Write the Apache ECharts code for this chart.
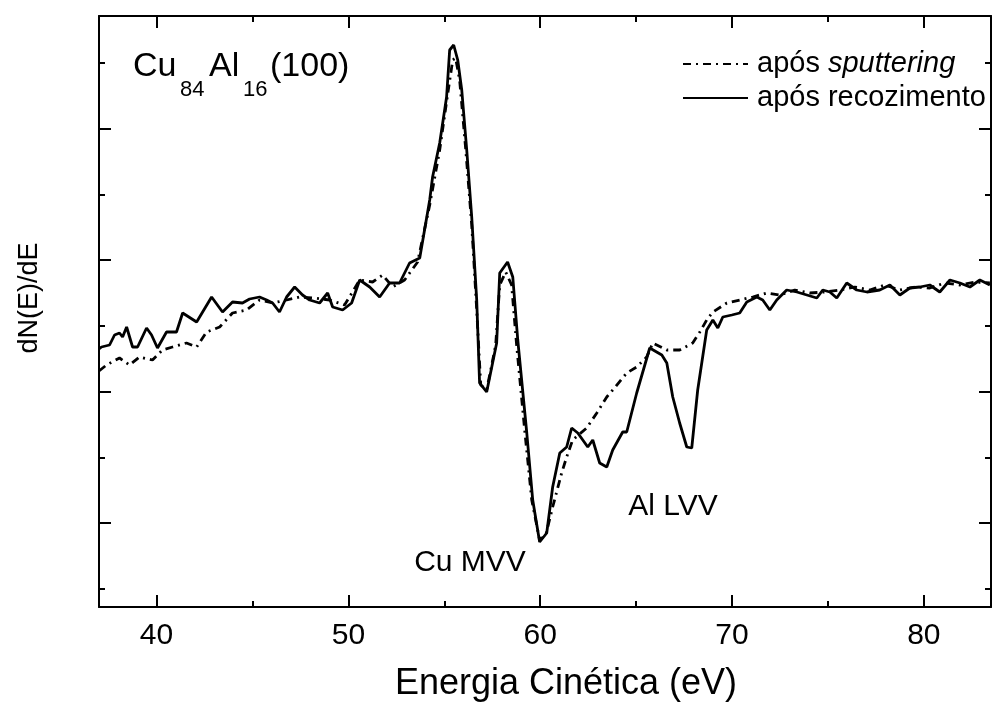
<!DOCTYPE html>
<html>
<head>
<meta charset="utf-8">
<script src="https://cdn.jsdelivr.net/npm/echarts@6/dist/echarts.min.js"></script>
<style>
html,body{margin:0;padding:0;background:#fff;}
#chart{width:997px;height:706px;}
</style>
</head>
<body>
<div id="chart"></div>
<script>
// Energy axis (eV)
const xMin = 37, xMax = 83.5;
const xMajorTicks = [40, 50, 60, 70, 80];
const xMinorTicks = [45, 55, 65, 75];
// dN(E)/dE, arbitrary units
const yMin = 0, yMax = 591;
const yMajorTicks = [84, 215.5, 347, 478.5];
const yMinorTicks = [18.25, 149.75, 281.25, 412.75, 544.25];

const seriesNames = ['após sputtering', 'após recozimento'];

// após sputtering (dash-dot)
const energySputter = [37.0,37.39,38.07,38.59,39.11,39.79,40.31,40.83,41.56,42.09,42.61,43.29,43.96,44.69,45.37,46.05,46.78,47.46,48.24,49.02,49.80,50.59,51.26,51.79,52.31,52.93,53.61,54.24,54.76,55.17,55.44,55.59,55.80,56.12,56.43,56.69,56.90,57.21,57.68,57.89,58.20,58.51,58.77,59.19,59.56,59.97,60.29,60.65,61.12,61.38,61.69,62.42,62.95,63.47,63.78,64.51,65.03,65.55,65.87,66.60,67.27,67.95,68.32,68.68,69.00,69.73,70.40,71.08,71.81,72.49,73.27,74.05,74.83,75.62,76.40,77.18,77.96,78.75,79.53,80.31,81.09,81.88,82.66,83.44];
const dndeSputter = [236,242,249,242,250,247,257,260,264,260,275,280,294,297,307,304,307,310,309,307,302,327,325,332,320,327,345,402,457,512,547,549,527,457,382,297,222,217,262,322,335,322,262,177,107,67,72,100,134,150,167,179,194,210,217,234,240,250,264,257,257,264,275,287,295,304,307,310,314,312,317,314,315,317,320,317,322,317,320,319,324,322,325,324];

// após recozimento (solid)
const energyAnneal = [37.0,37.13,37.55,37.81,38.07,38.23,38.44,38.75,39.01,39.48,39.74,40.05,40.52,41.04,41.36,42.09,42.87,43.44,43.96,44.48,44.85,45.37,45.74,46.05,46.41,46.78,47.20,47.61,47.98,48.50,48.92,49.18,49.70,50.17,50.59,51.11,51.63,52.15,52.67,53.19,53.72,54.24,54.39,54.76,55.12,55.28,55.49,55.70,55.91,56.17,56.43,56.69,56.84,57.21,57.73,57.89,58.30,58.57,58.83,59.30,59.61,59.97,60.34,60.65,61.02,61.38,61.64,61.96,62.48,62.74,63.10,63.47,63.78,64.30,64.51,65.03,65.71,66.34,66.60,66.91,67.27,67.64,67.90,68.21,68.68,69.00,69.26,69.52,69.99,70.40,70.77,71.29,71.60,71.97,72.33,72.85,73.38,73.90,74.42,74.73,75.10,75.46,75.98,76.50,77.03,77.70,78.23,78.75,79.27,79.79,80.31,80.83,81.36,81.88,82.40,82.92,83.44];
const dndeAnneal = [258,260,262,272,274,270,280,260,260,279,272,259,275,275,294,285,310,295,305,304,308,310,307,304,295,310,320,312,307,304,314,300,297,304,327,320,310,324,324,344,349,407,430,464,510,557,562,547,517,457,390,307,224,215,264,334,345,330,267,174,107,65,74,120,154,160,179,174,160,167,144,140,157,175,175,214,259,252,244,210,184,160,159,217,277,287,279,290,292,294,305,310,307,297,307,317,315,312,309,317,315,309,324,317,315,317,322,312,319,320,322,315,327,324,320,327,322];

const FONT = '"Liberation Sans", Arial, Helvetica, sans-serif';
const pairs = (xs, ys) => xs.map((x, i) => [x, ys[i]]);

function xAx(position, ticks, len, showLine, showLabel) {
  return {
    type: 'value', min: xMin, max: xMax, position: position,
    axisLine: { show: showLine, onZero: false, lineStyle: { color: '#000', width: 2 } },
    axisTick: { show: true, inside: true, length: len, customValues: ticks, lineStyle: { color: '#000', width: 2 } },
    axisLabel: { show: showLabel, customValues: ticks, margin: 14, color: '#000', fontSize: 30, fontFamily: FONT },
    splitLine: { show: false }
  };
}
function yAx(position, ticks, len, showLine) {
  return {
    type: 'value', min: yMin, max: yMax, position: position,
    axisLine: { show: showLine, onZero: false, lineStyle: { color: '#000', width: 2 } },
    axisTick: { show: true, inside: true, length: len, customValues: ticks, lineStyle: { color: '#000', width: 2 } },
    axisLabel: { show: false },
    splitLine: { show: false }
  };
}

const chart = echarts.init(document.getElementById('chart'), null, { renderer: 'canvas' });
chart.setOption({
  animation: false,
  backgroundColor: '#fff',
  grid: { left: 99, right: 6, top: 16, bottom: 99, containLabel: false, outerBoundsMode: 'none' },
  xAxis: [
    xAx('bottom', xMajorTicks, 12, true, true),
    xAx('bottom', xMinorTicks, 6, false, false),
    xAx('top', xMajorTicks, 12, true, false),
    xAx('top', xMinorTicks, 6, false, false)
  ],
  yAxis: [
    yAx('left', yMajorTicks, 12, true),
    yAx('left', yMinorTicks, 6, false),
    yAx('right', yMajorTicks, 12, true),
    yAx('right', yMinorTicks, 6, false)
  ],
  legend: {
    orient: 'vertical', left: 682, top: 49, padding: 0,
    itemWidth: 65, itemHeight: 14, itemGap: 4,
    selectedMode: false,
    data: seriesNames,
    itemStyle: { opacity: 0 },
    formatter: function (name) {
      return name === seriesNames[0] ? '{n|após }{i|sputtering}' : '{n|após recozimento}';
    },
    textStyle: {
      color: '#000', fontSize: 29, fontFamily: FONT, lineHeight: 30, padding: [0, 0, 0, 4],
      rich: {
        n: { color: '#000', fontSize: 29, fontFamily: FONT, lineHeight: 30 },
        i: { color: '#000', fontSize: 29, fontFamily: FONT, fontStyle: 'italic', lineHeight: 30 }
      }
    }
  },
  series: [
    {
      name: seriesNames[0], type: 'line', xAxisIndex: 0, yAxisIndex: 0,
      data: pairs(energySputter, dndeSputter), symbol: 'none', smooth: false,
      lineStyle: { color: '#000', width: 2.8, type: [8, 5, 2, 5] },
      itemStyle: { color: '#000' }
    },
    {
      name: seriesNames[1], type: 'line', xAxisIndex: 0, yAxisIndex: 0,
      data: pairs(energyAnneal, dndeAnneal), symbol: 'none', smooth: false,
      lineStyle: { color: '#000', width: 2.8, type: 'solid' },
      itemStyle: { color: '#000' }
    }
  ],
  graphic: [
    { type: 'text', x: 30, y: 298, rotation: Math.PI / 2, style: { text: 'dN(E)/dE', fontSize: 27, fontFamily: FONT, fill: '#000', align: 'center', verticalAlign: 'middle' } },
    { type: 'text', x: 566, y: 684, style: { text: 'Energia Cinética (eV)', fontSize: 36, fontFamily: FONT, fill: '#000', align: 'center', verticalAlign: 'middle' } },
    { type: 'text', x: 133, y: 66.5, style: { text: 'Cu', fontSize: 34, fontFamily: FONT, fill: '#000', align: 'left', verticalAlign: 'middle' } },
    { type: 'text', x: 180, y: 89.5, style: { text: '84', fontSize: 22, fontFamily: FONT, fill: '#000', align: 'left', verticalAlign: 'middle' } },
    { type: 'text', x: 209, y: 66.5, style: { text: 'Al', fontSize: 34, fontFamily: FONT, fill: '#000', align: 'left', verticalAlign: 'middle' } },
    { type: 'text', x: 243, y: 89.5, style: { text: '16', fontSize: 22, fontFamily: FONT, fill: '#000', align: 'left', verticalAlign: 'middle' } },
    { type: 'text', x: 270, y: 66.5, style: { text: '(100)', fontSize: 34, fontFamily: FONT, fill: '#000', align: 'left', verticalAlign: 'middle' } },
    { type: 'text', x: 470, y: 563, style: { text: 'Cu MVV', fontSize: 30, fontFamily: FONT, fill: '#000', align: 'center', verticalAlign: 'middle' } },
    { type: 'text', x: 673, y: 507, style: { text: 'Al LVV', fontSize: 30, fontFamily: FONT, fill: '#000', align: 'center', verticalAlign: 'middle' } }
  ]
});
</script>
</body>
</html>
